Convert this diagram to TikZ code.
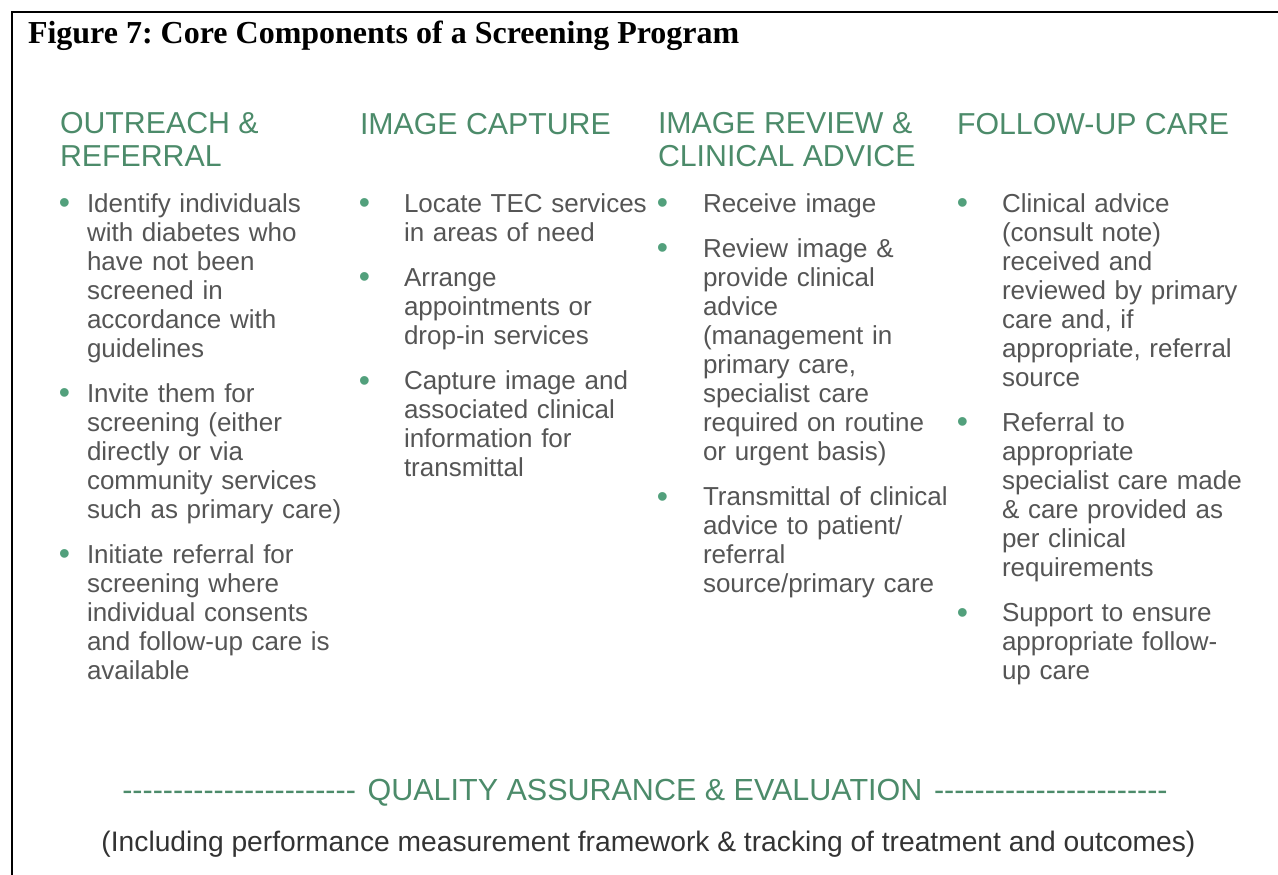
\documentclass[tikz,border=0pt]{standalone}
\usepackage{fontspec}
\setmainfont{Liberation Serif}
\newfontfamily\sansf{Liberation Sans}
\definecolor{hgreen}{HTML}{4C8B6A}
\definecolor{bgreen}{HTML}{52A07C}
\definecolor{bodygray}{HTML}{555555}
\definecolor{subgray}{HTML}{333333}
% bullet hanging to the left of the item text, #1 = gap before text
\newcommand\bul[1]{\leavevmode\llap{\raisebox{-1.6pt}{\textcolor{bgreen}{\fontsize{32}{32}\selectfont\textbullet}}\hspace{#1}}}
\newcommand\nextitem{\par\vspace{16.2pt}}
\newcommand\dashrun[1]{\hbox to #1{\cleaders\hbox{-}\hfill}}
\frenchspacing
\begin{document}
\begin{tikzpicture}[x=1pt,y=-1pt,
  every node/.style={inner sep=0pt, outer sep=0pt},
  figtitle/.style={anchor=base west, font=\fontsize{32}{36}\selectfont\bfseries},
  head/.style={anchor=base west, align=left, text=hgreen,
    font=\sansf\fontsize{30.3}{32.5}\selectfont},
  body/.style={anchor=base west, align=left, text width=290pt, text=bodygray,
    font=\sansf\fontsize{26}{29}\selectfont},
]
\useasboundingbox (0,0) rectangle (1278,875);

% frame
\draw[line width=2.3pt] (12,876) -- (12,12) -- (1279,12);

\node[figtitle] (title) at (28,44) {Figure 7: Core Components of a Screening Program};

% column headings (base anchor sits on the last line)
\node[head] (h1) at (60,166) {OUTREACH \&\\REFERRAL};
\node[head] (h2) at (360,134) {IMAGE CAPTURE};
\node[head] (h3) at (658,166) {IMAGE REVIEW \&\\CLINICAL ADVICE};
\node[head] (h4) at (957,134) {FOLLOW-UP CARE};

% column bodies
\node[body] (c1) at (87,212) {%
\bul{17pt}Identify individuals\\with diabetes who\\have not been\\screened in\\accordance with\\guidelines\nextitem
\bul{17pt}Invite them for\\screening (either\\directly or via\\community services\\such as primary care)\nextitem
\bul{17pt}Initiate referral for\\screening where\\individual consents\\and follow-up care is\\available};

\node[body] (c2) at (404,212) {%
\bul{34pt}Locate TEC services\\in areas of need\nextitem
\bul{34pt}Arrange\\appointments or\\drop-in services\nextitem
\bul{34pt}Capture image and\\associated clinical\\information for\\transmittal};

\node[body] (c3) at (703,212) {%
\bul{35pt}Receive image\nextitem
\bul{35pt}Review image \&\\provide clinical\\advice\\(management in\\primary care,\\specialist care\\required on routine\\or urgent basis)\nextitem
\bul{35pt}Transmittal of clinical\\advice to patient/\\referral\\source/primary care};

\node[body] (c4) at (1002,212) {%
\bul{34pt}Clinical advice\\(consult note)\\received and\\reviewed by primary\\care and, if\\appropriate, referral\\source\nextitem
\bul{34pt}Referral to\\appropriate\\specialist care made\\\& care provided as\\per clinical\\requirements\nextitem
\bul{34pt}Support to ensure\\appropriate follow-\\up care};

% quality assurance band
\node[anchor=base, text=hgreen, font=\sansf\fontsize{30.5}{32.5}\selectfont] (qa) at (645,800)
  {\dashrun{240pt} QUALITY ASSURANCE \& EVALUATION \dashrun{240pt}};
\node[anchor=base, text=subgray, font=\sansf\fontsize{28.2}{32}\selectfont] (sub) at (648.5,851)
  {(Including performance measurement framework \& tracking of treatment and outcomes)};
\end{tikzpicture}
\end{document}
